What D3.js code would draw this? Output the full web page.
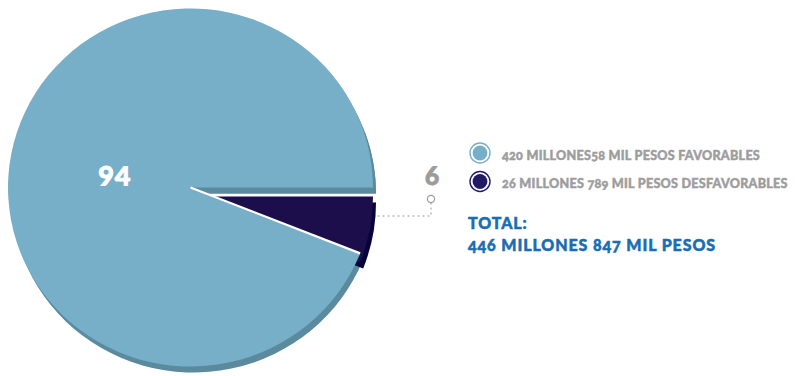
<!DOCTYPE html>
<html>
<head>
<meta charset="utf-8">
<script src="https://cdn.jsdelivr.net/npm/d3@7"></script>
<style>
  html, body { margin: 0; padding: 0; background: #ffffff; }
  svg { display: block; }
  text { font-family: "Lato", "Open Sans", sans-serif; font-variant-numeric: oldstyle-nums; }
</style>
</head>
<body>
<svg id="chart" width="798" height="376"></svg>
<script>
// Share of the total amount, in percent
const categories = ["FAVORABLES", "DESFAVORABLES"];
const percents = [94, 6];
const legendLabels = [
  "420 MILLONES58 MIL PESOS FAVORABLES",
  "26 MILLONES 789 MIL PESOS DESFAVORABLES"
];
const totalLabels = ["TOTAL:", "446 MILLONES 847 MIL PESOS"];

const topColors  = ["#77afc9", "#1b0e4a"];
const sideColors = ["#5b8a9e", "#07023a"];
const legendFill = ["#77afc9", "#231a66"];

const svg = d3.select("#chart");

// Pie geometry (slightly flattened to give a tilted look)
const cx = 190.5, cy = 187.5, rx = 182.5, ry = 179;
const k = ry / rx;
const depth = { x: 3, y: 6 };     // visible side of the pie
const pull = { x: 0, y: 9 };      // the small slice is pulled out

const total = d3.sum(percents);
// Small slice starts at 3 o'clock and runs clockwise
const start = Math.PI / 2 + 2 * Math.PI * percents[1] / total;
const pie = d3.pie().sort(null).startAngle(start).endAngle(start + 2 * Math.PI);
const arcs = pie(percents);
const arc = d3.arc().innerRadius(0).outerRadius(rx);

const g = svg.append("g");
function layer(dx, dy) {
  return g.append("g").attr("transform", `translate(${cx + dx},${cy + dy}) scale(1,${k})`);
}
function edge(sel, angle) {
  sel.append("line")
    .attr("x1", 0).attr("y1", 0)
    .attr("x2", rx * Math.sin(angle)).attr("y2", -rx * Math.cos(angle))
    .attr("stroke", "#ffffff").attr("stroke-width", 2.2)
    .attr("vector-effect", "non-scaling-stroke");
}

// Side (depth) of the large slice
layer(depth.x, depth.y).append("path")
  .attr("d", arc(arcs[0])).attr("fill", sideColors[0]);
// Side and top of the small, pulled-out slice
layer(pull.x + depth.x, pull.y + depth.y).append("path")
  .attr("d", arc(arcs[1])).attr("fill", sideColors[1]);
const small = layer(pull.x, pull.y);
small.append("path").attr("d", arc(arcs[1])).attr("fill", topColors[1]);
// Side of the large slice sits over the small one along the upper cut
layer(depth.x, depth.y).append("path")
  .attr("d", arc({ startAngle: Math.PI / 2 - 0.35, endAngle: Math.PI / 2 }))
  .attr("fill", sideColors[0]);
// Top of the large slice, with a white cut line along its lower edge
const topLayer = layer(0, 0);
topLayer.append("path").attr("d", arc(arcs[0])).attr("fill", topColors[0]);
edge(topLayer, arcs[0].startAngle);

// Heavy text: fill plus a thin stroke of the same colour
function heavy(sel, color, w) {
  return sel.attr("fill", color).attr("stroke", color)
    .attr("stroke-width", w).attr("paint-order", "stroke")
    .attr("font-weight", 900);
}

// Value inside the large slice
const inner = d3.arc().innerRadius(0).outerRadius(2 * 77);
const c0 = inner.centroid(arcs[0]);
heavy(svg.append("text")
  .attr("x", cx + c0[0]).attr("y", cy + c0[1] * k + 10)
  .attr("text-anchor", "middle")
  .attr("font-size", 29).attr("letter-spacing", 1), "#ffffff", 0.8)
  .text(percents[0]);

// Value of the small slice, with its leader
const lblX = 432, lblY = 185, dotY = 199, leadY = 216;
heavy(svg.append("text")
  .attr("x", lblX).attr("y", lblY)
  .attr("text-anchor", "middle")
  .attr("font-size", 26), "#9b9b9b", 0.8)
  .text(percents[1]);
svg.append("path")
  .attr("d", `M${lblX - 1},${dotY + 3.5} V${leadY} H${cx + rx + pull.x + depth.x}`)
  .attr("fill", "none").attr("stroke", "#9b9b9b").attr("stroke-width", 1)
  .attr("stroke-dasharray", "2,3");
svg.append("circle")
  .attr("cx", lblX - 1).attr("cy", dotY).attr("r", 3.6)
  .attr("fill", "#ffffff").attr("stroke", "#9b9b9b").attr("stroke-width", 1.2);

// Legend
const legend = svg.append("g").attr("transform", "translate(480,153)");
const items = legend.selectAll("g.item").data(categories).enter().append("g")
  .attr("class", "item")
  .attr("transform", (d, i) => `translate(0,${i * 28.5})`);
items.append("circle").attr("r", 10)
  .attr("fill", "#ffffff")
  .attr("stroke", (d, i) => legendFill[i]).attr("stroke-width", 1.4);
items.append("circle").attr("r", 7.4)
  .attr("fill", (d, i) => legendFill[i]);
heavy(items.append("text")
  .attr("x", 22).attr("y", 6.5)
  .attr("font-size", 12.6).attr("letter-spacing", 0.25), "#9d9d9d", 0.45)
  .text((d, i) => legendLabels[i]);

// Total
heavy(svg.selectAll("text.total").data(totalLabels).enter().append("text")
  .attr("class", "total")
  .attr("x", 468).attr("y", (d, i) => 229 + i * 22)
  .attr("font-size", 16).attr("letter-spacing", 0.9), "#1a6db2", 0.5)
  .text(d => d);
</script>
</body>
</html>
